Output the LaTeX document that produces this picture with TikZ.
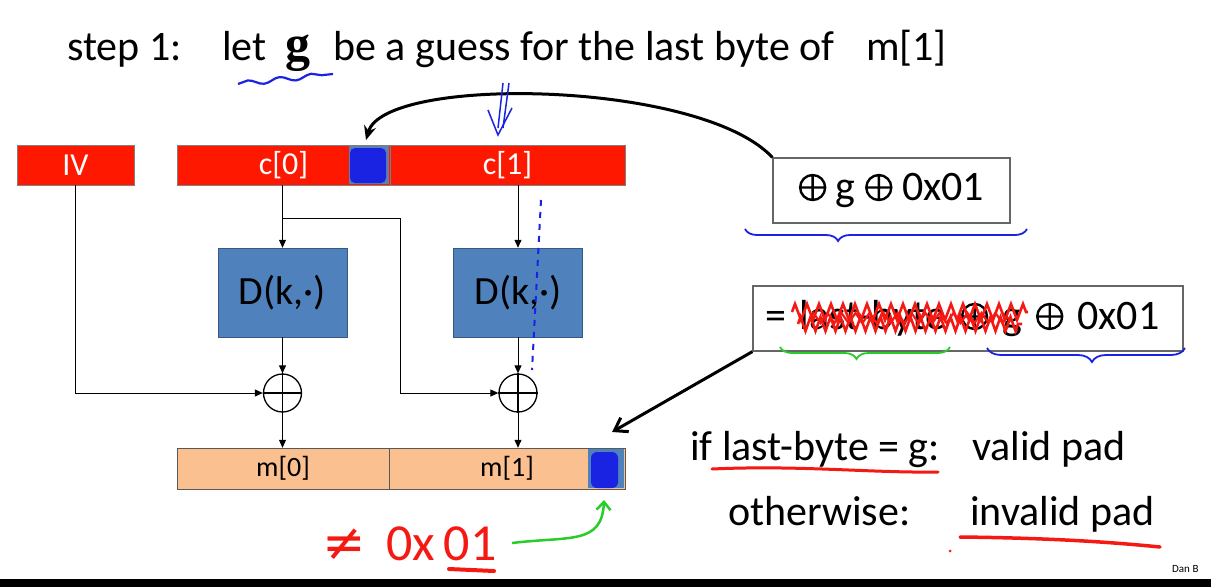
\documentclass[tikz,border=0pt]{standalone}
\usepackage{fontspec}
\setmainfont{Carlito}
\newfontfamily\symfont{DejaVu Sans}
\newfontfamily\serifbold{Liberation Serif}
\usetikzlibrary{calc,arrows.meta,decorations.pathmorphing,decorations.pathreplacing}

\definecolor{boxred}{RGB}{255,24,0}
\definecolor{boxblue}{RGB}{79,129,189}
\definecolor{boxpeach}{RGB}{250,192,143}
\definecolor{inkblue}{RGB}{25,35,225}
\definecolor{inkred}{RGB}{245,25,20}
\definecolor{inkgreen}{RGB}{40,205,40}

\newcommand{\xorsign}{\tikz[baseline = 0pt] \draw [line width = 2.4pt] (0pt, 13pt) circle [radius = 12.5pt] (-12.5pt, 13pt) -- (12.5pt, 13pt) (0pt, 0.5pt) -- (0pt, 25.5pt);}

\begin{document}
\begin{tikzpicture}[x = 1pt, y = -1pt,
  redbox/.style = {draw = gray, fill = boxred, text = white, inner sep = 0, font = \fontsize{32}{32}\selectfont},
  keybox/.style = {draw = boxblue!70!black, fill = boxblue, minimum width = 129, minimum height = 89, font = \fontsize{40}{40}\selectfont},
  msgbox/.style = {draw = gray!70!black, fill = boxpeach, inner sep = 0, font = \fontsize{28}{28}\selectfont},
  xorgate/.style = {draw, circle, line width = 1.3, minimum size = 38, inner sep = 0},
  wire/.style = {line width = 1, -{Triangle[length = 8pt, width = 7pt]}},
  textbox/.style = {draw = gray!80!black, line width = 1.2, inner ysep = 0, inner xsep = 12, minimum height = 65, align = left, font = \fontsize{42}{42}\selectfont},
  big/.style = {font = \fontsize{42}{42}\selectfont, inner sep = 0, anchor = base west}]
\useasboundingbox (0, 0) rectangle (1211, 587);
%\draw[very thin, color = gray](0, 0) grid[step = 50] (1211, 587);
\node (step) [big] at (67, 60) {step 1:};
\node (let) [big] at (222, 60) {let};
\node (guess) [big, font = \serifbold\bfseries\fontsize{50}{50}\selectfont] at (285, 60) {g};
\node (rest) [big] at (333, 60) {be a guess for the last byte of};
\node (target) [big] at (866, 60) {m[1]};

\node (iv) [redbox, minimum width = 117, minimum height = 40] at (75.5, 165) {IV};
\node (c0) [redbox, minimum width = 213, minimum height = 40] at (283.5, 165) {c[0]};
\node (c1) [redbox, minimum width = 235, minimum height = 40] at (507.5, 165) {c[1]};
\fill [boxblue!80!gray] (349, 146) rectangle (389, 184);
\fill [inkblue, rounded corners = 5] (350, 148) rectangle (386, 183);

\node (dl) [keybox] at (282.5, 292.5) {D(k,·)};
\node (dr) [keybox] at (518, 292.5) {D(k,·)};
\node (xl) [xorgate] at (282.5, 393) {};
\node (xr) [xorgate] at (518, 393) {};
\draw [line width = 1.3] (xl.north) -- (xl.south) (xl.west) -- (xl.east);
\draw [line width = 1.3] (xr.north) -- (xr.south) (xr.west) -- (xr.east);

\node (m0) [msgbox, minimum width = 212, minimum height = 41] at (283, 468.5) {m[0]};
\node (m1) [msgbox, minimum width = 236, minimum height = 41] at (507, 468.5) {m[1]};
\fill [boxblue] (588, 449) rectangle (624, 488);
\fill [inkblue, rounded corners = 6] (591, 452) rectangle (618, 488);

\draw [wire] (iv.south) |- (xl.west);
\draw [wire] (dl.north |- c0.south) -- (dl.north);
\draw [wire] (dl.south) -- (xl.north);
\draw [wire] (xl.south) -- (xl.south |- m0.north);
\coordinate (split) at ($(dl.north |- c0.south) + (0, 33)$);
\draw [line width = 1] (split) -- ++(118, 0) coordinate (corner);
\draw [wire] (corner) |- (xr.west);
\draw [wire] (dr.north |- c1.south) -- (dr.north);
\draw [wire] (dr.south) -- (xr.north);
\draw [wire] (xr.south) -- (xr.south |- m1.north);

\node (gbox) [textbox, minimum width = 237] at (891.5, 190.5) {\xorsign\ g \xorsign\ 0x01};
\node (eqbox) [textbox, minimum width = 430, text width = 406] at (968, 318.5) {= last-byte \xorsign\ g \xorsign\ 0x01};

\node (cond) [big] at (690, 460) {if last-byte = g:};
\node (valid) [big] at (972, 460) {valid pad};
\node (other) [big] at (728, 525) {otherwise:};
\node (invalid) [big] at (970, 525) {invalid pad};

% pen marks
\coordinate (ctip) at (366, 140);
\coordinate (mtip) at (612, 432);
\coordinate (ntip) at (604, 500);
\draw [line width = 3, -{Stealth[length = 14pt, width = 12pt]}] (gbox.north west) .. controls (700, 80) and (385, 75) .. (ctip);
\draw [line width = 3, -{Straight Barb[length = 12pt, width = 16pt]}] (eqbox.south west) -- (mtip);
\draw [inkblue, line width = 1.5] (503, 83) -- (498, 128) (509, 83) -- (503, 128);
\draw [inkblue, line width = 1.5] (488, 110) -- (498, 135) -- (512, 108);
\draw [inkblue, line width = 2.2, decorate, decoration = {snake, amplitude = 2.5pt, segment length = 32pt}] (238, 84) -- (333, 74);
\draw [inkblue, line width = 2, dash pattern = on 6pt off 6pt] (541, 200) -- (532, 370);
\draw [inkblue, line width = 1.8, decorate, decoration = {brace, mirror, amplitude = 12pt, aspect = 0.33}] (745, 229) -- (1027, 229);
\draw [inkgreen, line width = 1.8, decorate, decoration = {brace, mirror, amplitude = 12pt, aspect = 0.45}] (780, 347) -- (950, 347);
\draw [inkblue, line width = 1.8, decorate, decoration = {brace, mirror, amplitude = 14pt, aspect = 0.53}] (987, 348) -- (1185, 348);
\draw [inkred, line width = 2.6, decorate, decoration = {zigzag, segment length = 12pt, amplitude = 8pt}] (792, 312) -- (1028, 312);
\draw [inkred, line width = 2.6, decorate, decoration = {zigzag, segment length = 10pt, amplitude = 7pt}] (798, 324) -- (1022, 324);
\draw [inkred, line width = 2.2, decorate, decoration = {zigzag, segment length = 14pt, amplitude = 5pt}] (810, 318) -- (1010, 318);
\draw [inkred, line width = 3, line cap = round] (712, 469) .. controls (800, 465) and (870, 473) .. (938, 472);
\draw [inkred, line width = 3.5, line cap = round] (960, 537) .. controls (1050, 538) and (1110, 542) .. (1160, 547);
\fill [inkred] (950, 551) circle (1.5);
\node (noteq) [big, text = inkred, font = \fontsize{52}{52}\selectfont] at (322, 560) {{\symfont ≠}\, 0x\,01};
\draw [inkred, line width = 4, line cap = round] (449, 569) -- (494, 571);
\draw [inkgreen, line width = 2.5, -{Straight Barb[length = 8pt, width = 14pt]}] (512, 543) .. controls (570, 536) and (602, 545) .. (ntip);

\node (credit) [big, font = \fontsize{11}{11}\selectfont] at (1172, 572) {Dan B};
\fill [black] (0, 579) rectangle (1211, 587);
\end{tikzpicture}
\end{document}
